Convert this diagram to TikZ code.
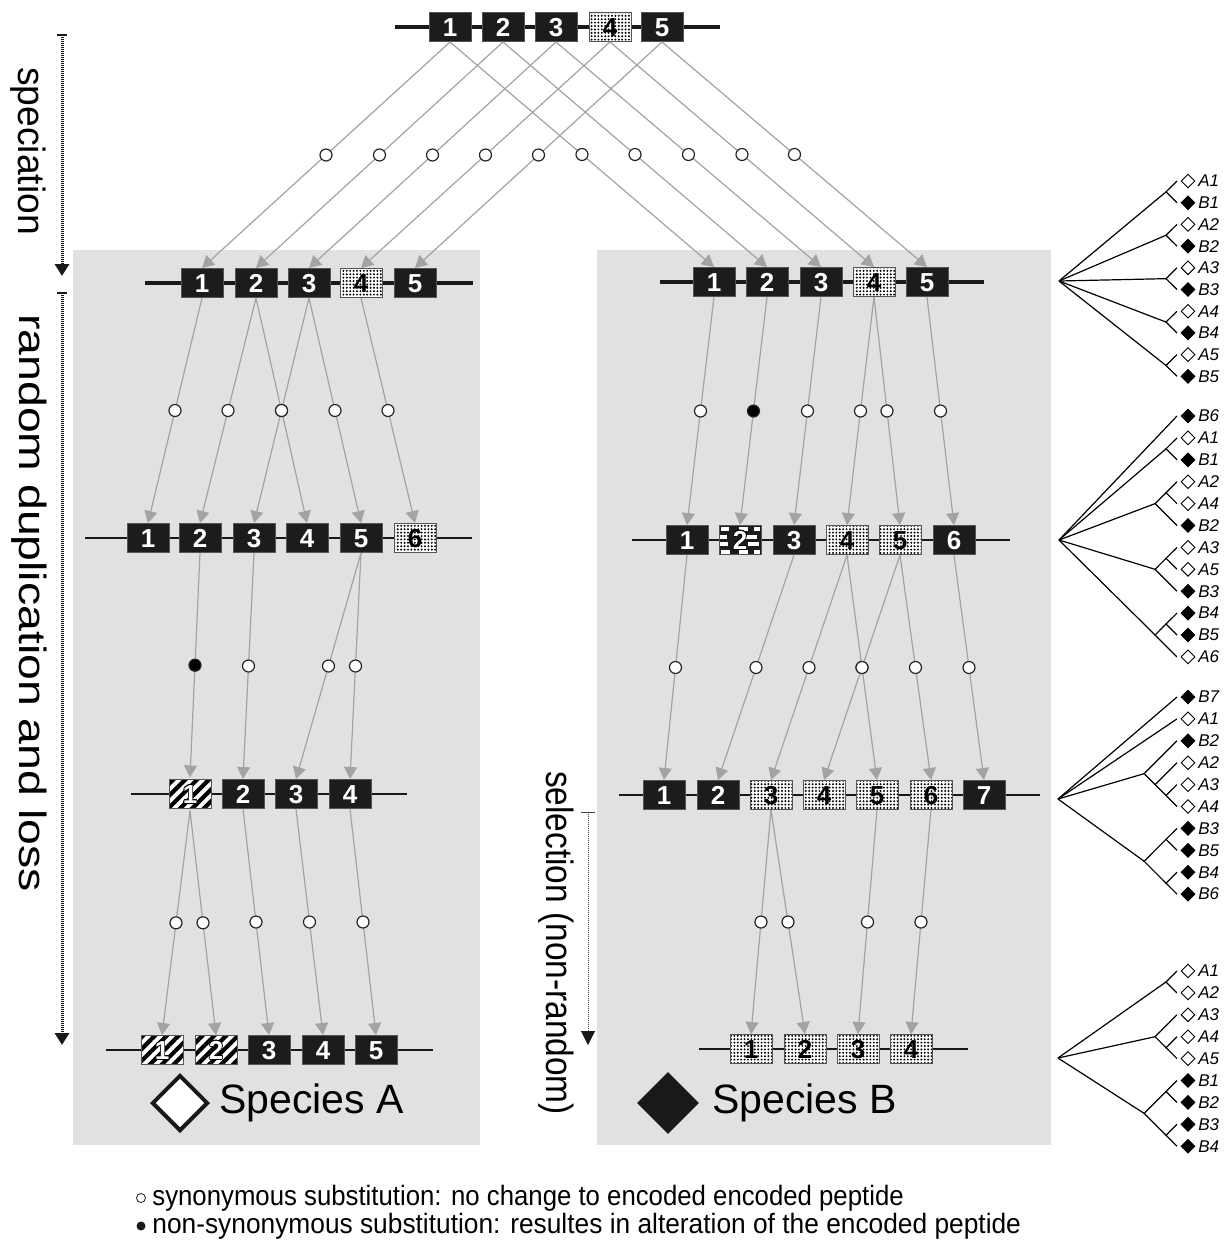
\documentclass[tikz,border=0pt]{standalone}
\usepackage{fontspec}
\setmainfont{Liberation Sans}
\usepackage{contour}
\contourlength{0.35pt}
\usetikzlibrary{arrows.meta,shapes.geometric,patterns.meta}

\definecolor{panelgray}{RGB}{225,225,225}
\definecolor{arrowgray}{RGB}{163,163,163}
\definecolor{boxblack}{RGB}{28,28,28}
\definecolor{boxedge}{RGB}{85,85,85}
\definecolor{inkblack}{RGB}{25,25,25}

% leaf of a tree: tip coordinate, diamond marker and italic label
\newcommand\leafnode[4]{%
  \coordinate (#1) at (1177,#2);
  \node[#3] (#1m) at (1188,#2) {};
  \node[leaflab] (#1t) at (1198,#2) {#4};}

% white digit with a dark outline, for patterned boxes
\newcommand\outdigit[1]{\textcolor{white}{\contour{black}{#1}}}

\begin{document}
\begin{tikzpicture}[x=0.5pt,y=-0.5pt,
  gene/.style={minimum width=21pt,minimum height=14.5pt,inner sep=0pt,text height=9.3pt,text depth=0pt,draw=boxedge,line width=0.5pt,font=\bfseries\fontsize{13}{13}\selectfont},
  gblack/.style={gene,fill=boxblack,text=white},
  gdot/.style={gene,preaction={fill=white},pattern={Dots[distance=1.7pt,radius=0.55pt]},pattern color=black,text=black},
  ghatch/.style={gene,preaction={fill=white},pattern={Lines[angle=45,distance=4.2pt,line width=2.1pt]},pattern color=black},
  gcheck/.style={gene,fill=boxblack,path picture={
    \foreach \bx/\by/\bw in {2/1.5/8,20/1.5/9,35/1.5/6,0/9/8,27/9/11,1/16.5/8,29/16.5/11,2/24/9,20/24/9,35/24/6}
      \fill[white] ([shift={(\bx,\by)}]path picture bounding box.north west) rectangle ++(\bw,4);}},
  chromthick/.style={line width=1.7pt,draw=inkblack},
  chromthin/.style={line width=1pt,draw=inkblack},
  garrow/.style={draw=arrowgray,line width=0.6pt,-{Triangle[width=6.5pt,length=6pt]}},
  ocirc/.style={circle,draw=black!85,fill=white,line width=0.6pt,inner sep=0pt,minimum size=6pt},
  fcirc/.style={ocirc,fill=black},
  tedge/.style={line width=0.6pt,draw=black},
  leafA/.style={diamond,draw=black,fill=white,line width=0.45pt,inner sep=0pt,minimum size=7pt},
  leafB/.style={leafA,fill=black},
  leaflab/.style={anchor=west,inner sep=0pt,font=\itshape\fontsize{8.5}{8.5}\selectfont},
  phase/.style={rotate=-90,inner sep=0pt,font=\fontsize{19}{19}\selectfont},
  vdots/.style={line width=1.5pt,draw=inkblack,dash pattern=on 0.5pt off 0.5pt,-{Triangle[width=7pt,length=6pt]}},
  seldots/.style={line width=0.5pt,draw=black!75,dash pattern=on 0.5pt off 0.5pt,-{Triangle[width=7pt,length=7pt,color=inkblack]}},
  legtext/.style={anchor=west,inner sep=0pt,font=\fontsize{14}{14}\selectfont},
]
\useasboundingbox (0,0) rectangle (1228,1250);
\fill[white] (0,0) rectangle (1228,1250);

% species panels
\fill[panelgray] (73,250) rectangle (480,1145);
\fill[panelgray] (597,250) rectangle (1051,1145);

% chromosome backbones
\draw[chromthick] (395,27) -- (720,27);
\draw[chromthick] (145,283) -- (473,283);
\draw[chromthin] (85,538) -- (472,538);
\draw[chromthin] (131,794) -- (407,794);
\draw[chromthin] (106,1050) -- (433,1050);
\draw[chromthick] (660,282) -- (984,282);
\draw[chromthin] (632,540) -- (1010,540);
\draw[chromthin] (619,795) -- (1040,795);
\draw[chromthin] (699,1049) -- (968,1049);

% ancestral gene cluster
\foreach \i/\x/\s in {1/450/gblack,2/503/gblack,3/556/gblack,4/610/gdot,5/662/gblack}
  \node[\s] (T\i) at (\x,27) {\i};

% species A gene clusters
\foreach \i/\x/\s in {1/202/gblack,2/256/gblack,3/309/gblack,4/361/gdot,5/415/gblack}
  \node[\s] (La\i) at (\x,283) {\i};
\foreach \i/\x/\s in {1/148/gblack,2/200/gblack,3/254/gblack,4/307/gblack,5/361/gblack,6/415/gdot}
  \node[\s] (Lb\i) at (\x,538) {\i};
\node[ghatch] (Lc1) at (190,794) {\outdigit{1}};
\foreach \i/\x in {2/243,3/296,4/350}
  \node[gblack] (Lc\i) at (\x,794) {\i};
\node[ghatch] (Ld1) at (162,1050) {\outdigit{1}};
\node[ghatch] (Ld2) at (216,1050) {\outdigit{2}};
\foreach \i/\x in {3/269,4/323,5/376}
  \node[gblack] (Ld\i) at (\x,1050) {\i};

% species B gene clusters
\foreach \i/\x/\s in {1/714/gblack,2/767/gblack,3/821/gblack,4/874/gdot,5/927/gblack}
  \node[\s] (Ra\i) at (\x,282) {\i};
\node[gblack] (Rb1) at (687,540) {1};
\node[gcheck] (Rb2) at (740,540) {\outdigit{2}};
\foreach \i/\x/\s in {3/794/gblack,4/847/gdot,5/900/gdot,6/954/gblack}
  \node[\s] (Rb\i) at (\x,540) {\i};
\foreach \i/\x/\s in {1/664/gblack,2/718/gblack,3/771/gdot,4/824/gdot,5/877/gdot,6/931/gdot,7/984/gblack}
  \node[\s] (Rc\i) at (\x,795) {\i};
\foreach \i/\x in {1/751,2/805,3/858,4/911}
  \node[gdot] (Rd\i) at (\x,1049) {\i};

% speciation
\foreach \i in {1,...,5} {
  \draw[garrow] (T\i.south) -- node[ocirc] (sA\i) {} (La\i.north);
  \draw[garrow] (T\i.south) -- node[ocirc] (sB\i) {} (Ra\i.north);
}

% species A descent
\foreach \s/\d in {1/1,2/2,2/4,3/3,3/5,4/6}
  \draw[garrow] (La\s.south) -- node[ocirc] (cab\s\d) {} (Lb\d.north);
\draw[garrow] (Lb2.south) -- node[fcirc] (cbc21) {} (Lc1.north);
\foreach \s/\d in {3/2,5/3,5/4}
  \draw[garrow] (Lb\s.south) -- node[ocirc] (cbc\s\d) {} (Lc\d.north);
\foreach \s/\d in {1/1,1/2,2/3,3/4,4/5}
  \draw[garrow] (Lc\s.south) -- node[ocirc] (ccd\s\d) {} (Ld\d.north);

% species B descent
\foreach \s/\d in {1/1,3/3,4/4,4/5,5/6}
  \draw[garrow] (Ra\s.south) -- node[ocirc] (rab\s\d) {} (Rb\d.north);
\draw[garrow] (Ra2.south) -- node[fcirc] (rab22) {} (Rb2.north);
\foreach \s/\d in {1/1,3/2,4/3,4/5,5/4,5/6,6/7}
  \draw[garrow] (Rb\s.south) -- node[ocirc] (rbc\s\d) {} (Rc\d.north);
\foreach \s/\d in {3/1,3/2,5/3,6/4}
  \draw[garrow] (Rc\s.south) -- node[ocirc] (rcd\s\d) {} (Rd\d.north);

% time axes
\coordinate (spTop) at (62,35);   \coordinate (spEnd) at (62,276);
\coordinate (dlTop) at (62,293);  \coordinate (dlEnd) at (62,1045);
\coordinate (slTop) at (588,812); \coordinate (slEnd) at (588,1045);
\draw[line width=1pt,draw=inkblack] (57,35) -- (67,35);
\draw[line width=1pt,draw=inkblack] (57,293) -- (67,293);
\draw[vdots] (spTop) -- (spEnd);
\draw[vdots] (dlTop) -- (dlEnd);
\draw[line width=0.5pt,draw=black!75] (581,812) -- (595,812);
\draw[seldots] (slTop) -- (slEnd);
\node[phase] (specLab) at (28,151) {\scalebox{0.98}[1]{speciation}};
\node[phase] (dupLab) at (29,603) {\scalebox{1.22}[1]{random duplication and loss}};
\node[phase] (selLab) at (556,943) {\scalebox{0.88}[1]{selection (non-random)}};

% species labels
\node[diamond,draw=inkblack,line width=2pt,fill=white,inner sep=0pt,minimum size=28pt] (spAmark) at (180,1103) {};
\node[anchor=west,inner sep=0pt,font=\fontsize{20.5}{20.5}\selectfont] (spAtxt) at (219,1103) {Species A};
\node[diamond,fill=inkblack,inner sep=0pt,minimum size=31pt] (spBmark) at (668,1103) {};
\node[anchor=west,inner sep=0pt,font=\fontsize{20.5}{20.5}\selectfont] (spBtxt) at (712,1103) {Species B};

% gene tree after speciation
\coordinate (t1r) at (1059,281);
\foreach \k/\ya/\yb in {1/181/202.7,2/224.4/246.1,3/267.8/289.5,4/311.2/332.9,5/354.6/376.3} {
  \leafnode{t1a\k}{\ya}{leafA}{A\k}
  \leafnode{t1b\k}{\yb}{leafB}{B\k}
  \coordinate (t1p\k) at (1166,{(\ya+\yb)/2});
  \draw[tedge] (t1r) -- (t1p\k);
  \draw[tedge] (t1a\k) -- (t1p\k) -- (t1b\k);
}

% gene tree, second stage
\coordinate (t2r) at (1059,540);
\leafnode{t2b6}{416}{leafB}{B6}
\leafnode{t2a1}{437.9}{leafA}{A1}
\leafnode{t2b1}{459.8}{leafB}{B1}
\leafnode{t2a2}{481.7}{leafA}{A2}
\leafnode{t2a4}{503.6}{leafA}{A4}
\leafnode{t2b2}{525.5}{leafB}{B2}
\leafnode{t2a3}{547.4}{leafA}{A3}
\leafnode{t2a5}{569.3}{leafA}{A5}
\leafnode{t2b3}{591.2}{leafB}{B3}
\leafnode{t2b4}{613.1}{leafB}{B4}
\leafnode{t2b5}{635}{leafB}{B5}
\leafnode{t2a6}{656.9}{leafA}{A6}
\coordinate (t2n1) at (1166,448.85);
\coordinate (t2n2) at (1166,492.65);  \coordinate (t2n3) at (1155.1,503.6);
\coordinate (t2n4) at (1166,558.35);  \coordinate (t2n5) at (1155.1,569.3);
\coordinate (t2n6) at (1166,624.05);  \coordinate (t2n7) at (1155.1,635);
\draw[tedge] (t2r) -- (t2b6);
\draw[tedge] (t2r) -- (t2n1);  \draw[tedge] (t2a1) -- (t2n1) -- (t2b1);
\draw[tedge] (t2r) -- (t2n3);  \draw[tedge] (t2a2) -- (t2n2) -- (t2a4);  \draw[tedge] (t2n2) -- (t2n3) -- (t2b2);
\draw[tedge] (t2r) -- (t2n5);  \draw[tedge] (t2a3) -- (t2n4) -- (t2a5);  \draw[tedge] (t2n4) -- (t2n5) -- (t2b3);
\draw[tedge] (t2r) -- (t2n7);  \draw[tedge] (t2b4) -- (t2n6) -- (t2b5);  \draw[tedge] (t2n6) -- (t2n7) -- (t2a6);

% gene tree, third stage
\coordinate (t3r) at (1058,799);
\leafnode{t3b7}{697}{leafB}{B7}
\leafnode{t3a1}{718.9}{leafA}{A1}
\leafnode{t3b2}{740.8}{leafB}{B2}
\leafnode{t3a2}{762.7}{leafA}{A2}
\leafnode{t3a3}{784.6}{leafA}{A3}
\leafnode{t3a4}{806.5}{leafA}{A4}
\leafnode{t3b3}{828.4}{leafB}{B3}
\leafnode{t3b5}{850.3}{leafB}{B5}
\leafnode{t3b4}{872.2}{leafB}{B4}
\leafnode{t3b6}{894.1}{leafB}{B6}
\coordinate (t3n1) at (1166,795.55);  \coordinate (t3n2) at (1155.1,784.6);  \coordinate (t3n3) at (1144.15,773.65);
\coordinate (t3n4) at (1166,839.35);  \coordinate (t3n5) at (1166,883.15);   \coordinate (t3n6) at (1144.15,861.25);
\draw[tedge] (t3r) -- (t3b7);
\draw[tedge] (t3r) -- (t3a1);
\draw[tedge] (t3r) -- (t3n3);  \draw[tedge] (t3b2) -- (t3n3) -- (t3n2) -- (t3n1) -- (t3a4);
\draw[tedge] (t3n2) -- (t3a2);  \draw[tedge] (t3n1) -- (t3a3);
\draw[tedge] (t3r) -- (t3n6);  \draw[tedge] (t3n4) -- (t3n6) -- (t3n5);
\draw[tedge] (t3b3) -- (t3n4) -- (t3b5);  \draw[tedge] (t3b4) -- (t3n5) -- (t3b6);

% gene tree after selection
\coordinate (t4r) at (1058,1058);
\leafnode{t4a1}{971}{leafA}{A1}
\leafnode{t4a2}{992.9}{leafA}{A2}
\leafnode{t4a3}{1014.8}{leafA}{A3}
\leafnode{t4a4}{1036.7}{leafA}{A4}
\leafnode{t4a5}{1058.6}{leafA}{A5}
\leafnode{t4b1}{1080.5}{leafB}{B1}
\leafnode{t4b2}{1102.4}{leafB}{B2}
\leafnode{t4b3}{1124.3}{leafB}{B3}
\leafnode{t4b4}{1146.2}{leafB}{B4}
\coordinate (t4n1) at (1166,981.95);
\coordinate (t4n2) at (1166,1047.65);  \coordinate (t4n3) at (1155.1,1036.7);
\coordinate (t4n4) at (1166,1091.45);  \coordinate (t4n5) at (1166,1135.25);  \coordinate (t4n6) at (1144.15,1113.35);
\draw[tedge] (t4r) -- (t4n1);  \draw[tedge] (t4a1) -- (t4n1) -- (t4a2);
\draw[tedge] (t4r) -- (t4n3);  \draw[tedge] (t4a3) -- (t4n3) -- (t4n2) -- (t4a5);  \draw[tedge] (t4n2) -- (t4a4);
\draw[tedge] (t4r) -- (t4n6);  \draw[tedge] (t4n4) -- (t4n6) -- (t4n5);
\draw[tedge] (t4b1) -- (t4n4) -- (t4b2);  \draw[tedge] (t4b3) -- (t4n5) -- (t4b4);

% legend
\node[circle,draw=inkblack,line width=0.4pt,fill=white,inner sep=0pt,minimum size=4.5pt] (legOm) at (141,1198) {};
\node[legtext] (legO) at (152,1198) {\scalebox{0.92}[1]{synonymous substitution: no change to encoded encoded peptide}};
\node[circle,fill=inkblack,inner sep=0pt,minimum size=4.5pt] (legFm) at (141,1226) {};
\node[legtext] (legF) at (152,1226) {\scalebox{0.94}[1]{non-synonymous substitution: resultes in alteration of the encoded peptide}};
\end{tikzpicture}
\end{document}
